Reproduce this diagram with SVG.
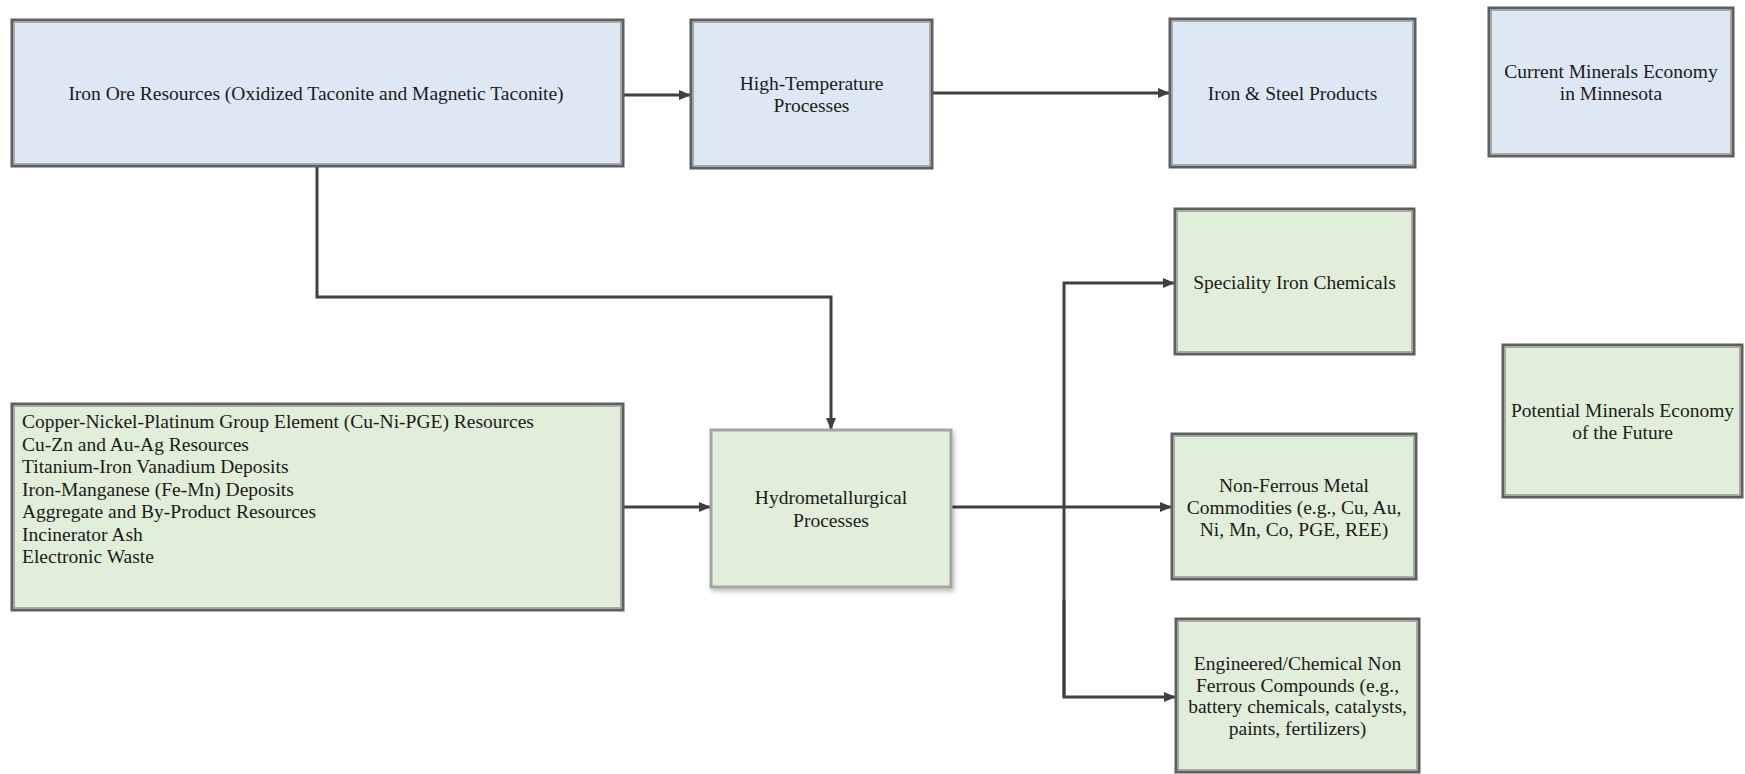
<svg xmlns="http://www.w3.org/2000/svg" width="1745" height="774" viewBox="0 0 1745 774">
  <defs>
    <style>
      .box { stroke: #5f5f5f; stroke-width: 3; }
      .inner { fill: none; stroke: #a8a8a8; stroke-width: 1; }
      .blue { fill: #dde8f4; }
      .green { fill: #e1eed9; }
      .soft { stroke: #a3a3a3; stroke-width: 3; }
      .lbl { font-family: "Liberation Serif", "Times New Roman", serif; font-size: 19.5px; fill: #1a1a1a; }
      .c { text-anchor: middle; }
      .conn { fill: none; stroke: #404040; stroke-width: 3; }
    </style>
    <marker id="arrow" markerUnits="userSpaceOnUse" markerWidth="12" markerHeight="10" refX="11" refY="5" orient="auto">
      <path d="M0,0 L12,5 L0,10 Z" fill="#404040"/>
    </marker>
    <filter id="shadow" x="-10%" y="-10%" width="125%" height="125%">
      <feDropShadow dx="2" dy="3" stdDeviation="2" flood-color="#000" flood-opacity="0.25"/>
    </filter>
  </defs>

  <!-- connectors -->
  <g id="connectors">
    <path class="conn" d="M623,95 L690,95" marker-end="url(#arrow)"/>
    <path class="conn" d="M932,93 L1169,93" marker-end="url(#arrow)"/>
    <path class="conn" d="M317,166 L317,297 L831,297 L831,429" marker-end="url(#arrow)"/>
    <path class="conn" d="M623,507 L710,507" marker-end="url(#arrow)"/>
    <path class="conn" d="M951,507 L1171,507" marker-end="url(#arrow)"/>
    <path class="conn" d="M1064,697 L1064,283 L1174,283" marker-end="url(#arrow)"/>
    <path class="conn" d="M1064,600 L1064,697 L1175,697" marker-end="url(#arrow)"/>
  </g>

  <!-- current economy: iron ore chain -->
  <g id="iron-ore">
    <rect class="box blue" x="12" y="20" width="611" height="146"/>
    <rect class="inner" x="14.5" y="22.5" width="606" height="141"/>
    <text class="lbl c" x="316" y="100">Iron Ore Resources (Oxidized Taconite and Magnetic Taconite)</text>
  </g>

  <g id="high-temp">
    <rect class="box blue" x="691" y="20" width="241" height="148"/>
    <rect class="inner" x="693.5" y="22.5" width="236" height="143"/>
    <text class="lbl c" x="811.5" y="90">High-Temperature</text>
    <text class="lbl c" x="811.5" y="112">Processes</text>
  </g>

  <g id="iron-steel">
    <rect class="box blue" x="1170" y="19" width="245" height="148"/>
    <rect class="inner" x="1172.5" y="21.5" width="240" height="143"/>
    <text class="lbl c" x="1292.5" y="100">Iron &amp; Steel Products</text>
  </g>

  <g id="legend-current">
    <rect class="box blue" x="1489" y="8" width="244" height="148"/>
    <rect class="inner" x="1491.5" y="10.5" width="239" height="143"/>
    <text class="lbl c" x="1611" y="78">Current Minerals Economy</text>
    <text class="lbl c" x="1611" y="100">in Minnesota</text>
  </g>

  <!-- future economy: hydrometallurgical chain -->
  <g id="other-resources">
    <rect class="box green" x="12" y="404" width="611" height="206"/>
    <rect class="inner" x="14.5" y="406.5" width="606" height="201"/>
    <text class="lbl" x="22" y="428">Copper-Nickel-Platinum Group Element (Cu-Ni-PGE) Resources</text>
    <text class="lbl" x="22" y="450.5">Cu-Zn and Au-Ag Resources</text>
    <text class="lbl" x="22" y="473">Titanium-Iron Vanadium Deposits</text>
    <text class="lbl" x="22" y="495.5">Iron-Manganese (Fe-Mn) Deposits</text>
    <text class="lbl" x="22" y="518">Aggregate and By-Product Resources</text>
    <text class="lbl" x="22" y="540.5">Incinerator Ash</text>
    <text class="lbl" x="22" y="563">Electronic Waste</text>
  </g>

  <g id="hydrometallurgical">
    <rect class="soft green" x="711" y="430" width="240" height="157" filter="url(#shadow)"/>
    <text class="lbl c" x="831" y="504">Hydrometallurgical</text>
    <text class="lbl c" x="831" y="527">Processes</text>
  </g>

  <g id="speciality">
    <rect class="box green" x="1175" y="209" width="239" height="145"/>
    <rect class="inner" x="1177.5" y="211.5" width="234" height="140"/>
    <text class="lbl c" x="1294.5" y="289">Speciality Iron Chemicals</text>
  </g>

  <g id="non-ferrous">
    <rect class="box green" x="1172" y="434" width="244" height="145"/>
    <rect class="inner" x="1174.5" y="436.5" width="239" height="140"/>
    <text class="lbl c" x="1294" y="492">Non-Ferrous Metal</text>
    <text class="lbl c" x="1294" y="514">Commodities (e.g., Cu, Au,</text>
    <text class="lbl c" x="1294" y="536">Ni, Mn, Co, PGE, REE)</text>
  </g>

  <g id="engineered">
    <rect class="box green" x="1176" y="619" width="243" height="153"/>
    <rect class="inner" x="1178.5" y="621.5" width="238" height="148"/>
    <text class="lbl c" x="1297.5" y="670">Engineered/Chemical Non</text>
    <text class="lbl c" x="1297.5" y="691.5">Ferrous Compounds (e.g.,</text>
    <text class="lbl c" x="1297.5" y="713">battery chemicals, catalysts,</text>
    <text class="lbl c" x="1297.5" y="734.5">paints, fertilizers)</text>
  </g>

  <g id="legend-future">
    <rect class="box green" x="1503" y="345" width="239" height="152"/>
    <rect class="inner" x="1505.5" y="347.5" width="234" height="147"/>
    <text class="lbl c" x="1622.5" y="417">Potential Minerals Economy</text>
    <text class="lbl c" x="1622.5" y="439">of the Future</text>
  </g>
</svg>
